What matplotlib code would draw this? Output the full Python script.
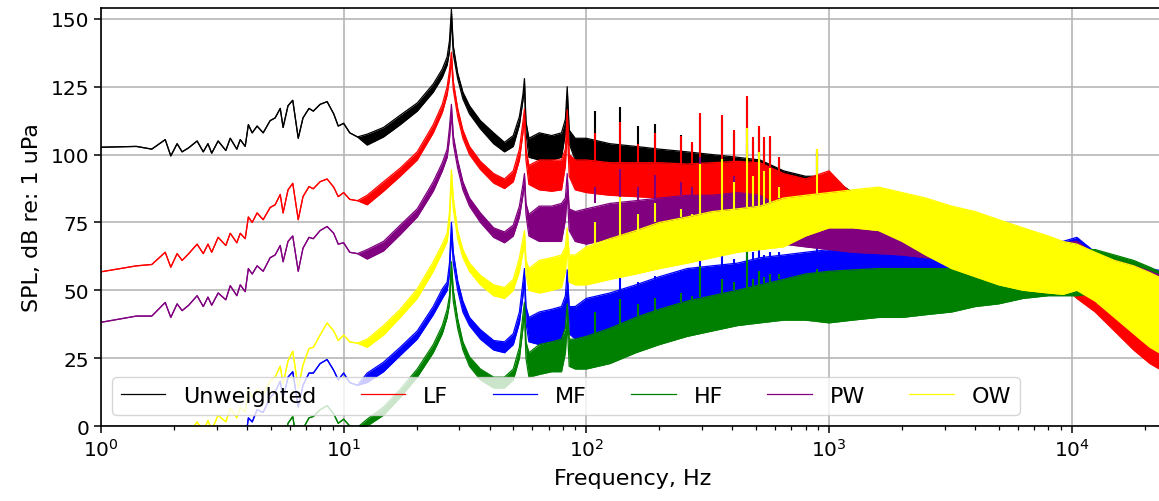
import numpy as np
import matplotlib.pyplot as plt

# ---- low frequency part (< 12 Hz): one thin trace per series ----
f_low = [1.0, 1.4, 1.62, 1.84, 1.94, 2.06, 2.16, 2.3, 2.49, 2.64, 2.76, 2.86, 3.04,
         3.27, 3.41, 3.63, 3.75, 3.93, 4.05, 4.2, 4.4, 4.66, 4.98, 5.22, 5.48, 5.63,
         5.9, 6.17, 6.5, 6.8, 7.2, 7.5, 8.0, 8.55, 9.1, 9.5, 10.0, 10.6, 11.4]
unw_low = [102.7, 103, 102, 105.5, 99.5, 104, 101, 102.5, 105, 101, 104, 100.5, 105,
           101.5, 106, 102, 105.5, 103, 111, 108, 110.5, 108, 112.5, 113.5, 117, 110,
           118, 120, 106, 113.5, 117, 116, 118.5, 119.5, 115, 110.5, 111.5, 108, 106.5]
lf_low = [56.8, 59, 59.5, 64, 58.5, 63.5, 61, 63.5, 67, 63.5, 67, 64, 69.5,
          66.5, 71, 67.5, 71, 69, 77, 75, 78.5, 76, 80.5, 81.5, 85.3, 78.5,
          87, 89.4, 76, 84.5, 88.2, 87.4, 90, 91, 88, 84.5, 86, 83.5, 83]
mf_low = [-30, -27, -26, -21, -26, -20, -22, -19, -15, -18, -14, -16.5, -11,
          -13, -7, -9, -5.5, -6, 3, 1.5, 6, 5, 10.5, 12.5, 16.5, 10,
          18, 20, 7, 15, 19.5, 19.5, 23, 24.5, 20.5, 17, 19.5, 16, 15]
hf_low = [-50, -46, -45, -40, -44, -38, -40, -36, -32, -34, -30, -32, -26,
          -28, -22, -24, -20, -21, -12, -14, -10, -11, -6, -4.5, -0.5, -6,
          1, 3.5, -9, -1, 3, 3.5, 6, 7.5, 4.5, 1, 2.5, 0, -0.5]
pw_low = [38.2, 40.5, 40.5, 45.5, 40, 45, 42.5, 44.5, 48, 44, 47.5, 44.5, 49,
          46.5, 51.7, 48, 52, 49.5, 58, 56, 59, 57, 62, 63, 66.5, 60.5,
          68, 70, 57, 65.5, 69.5, 69, 72, 73.5, 71, 67, 67.5, 64, 63.5]
ow_low = [-12, -9, -8.5, -4, -9, -3.5, -5.5, -3, 1.5, -2, 2, -1.5, 4,
          1.5, 6.5, 3, 7, 5, 13.5, 10.5, 13.5, 11.5, 16.5, 18, 22, 15.5,
          24, 27.5, 14, 22.5, 28.5, 29, 33.5, 38, 35, 31.5, 33.5, 31, 30.5]

# ---- noisy part: lower / upper envelope of the spectrum ----
f_band = [12.5, 14.6, 17.1, 20.1, 23.4, 25.5, 26.7, 27.3, 27.8, 28.3, 29.5, 31, 33,
          36.6, 41.5, 46, 50, 53, 54.8, 55.6, 56.4, 58, 64, 72, 79, 82, 83.4, 85,
          90, 100, 125, 160, 200, 260, 330, 420, 520, 650, 800, 1000, 1250, 1600,
          2000, 2500, 3200, 4000, 5000, 6300, 8000, 9200, 10500, 12500, 15000,
          18000, 21000, 24000]

unw_lo = [103.5, 106.5, 111, 116, 123, 128.5, 133, 138, 150, 137, 128, 120.5, 115,
          109.5, 104, 101, 103, 111, 120, 125, 108, 99, 98, 98, 99, 108, 120, 104,
          98, 97, 95, 94, 94, 92, 90, 88, 87, 84, 83, 82, 78, 76,
          74, 72, 70, 68, 66, 64, 62, 60, 58, 55, 52, 49, 47, 45]
unw_hi = [107.5, 110, 114.5, 119, 126, 131.5, 136, 142, 153.5, 140, 130, 123, 118,
          112.5, 108, 104.5, 107, 114, 122, 128, 112, 106, 108, 107, 108, 113, 125, 109,
          106, 106, 104, 103, 102, 101, 100, 99, 98, 94, 92, 92, 86, 85,
          83, 81, 78, 76, 74, 72, 69, 67, 67, 62, 60, 58, 56, 54]

lf_lo = [81.5, 86.5, 92, 98, 108, 115.5, 122, 128, 134.5, 124, 114, 106, 100,
         94.5, 89.5, 87.5, 90, 98, 108, 113.5, 98, 89, 87, 86.5, 87, 96, 110, 92,
         87, 86, 85, 84.5, 84, 83.5, 83, 83, 82, 83, 82, 83, 79, 77,
         74, 72, 69, 66, 63, 59, 55, 52, 47, 42, 35, 28, 23, 20]
lf_hi = [85, 90, 95, 101, 111, 118.5, 125, 131, 137.7, 127, 117, 109, 103,
         97.5, 93, 91, 94, 102, 112, 116.8, 102, 96, 98, 98, 98, 102, 116.5, 100,
         98, 98, 97, 97, 97, 96.5, 97, 97.5, 97, 93, 91, 94, 85, 84,
         82, 80, 78, 76, 73, 70, 67, 64, 58, 50, 44, 38, 33, 30]

mf_lo = [16, 20, 26, 32, 41, 47, 50, 56, 71, 60, 50, 42, 37,
         32, 28, 27, 30, 38, 48, 54, 38, 31, 30, 31, 31, 38, 50, 34,
         32, 33, 35, 37, 40, 43, 45, 46, 47, 48, 50, 51, 51, 51.5,
         52, 52, 52, 52, 52, 52.5, 53, 54, 54, 52, 50, 48, 47, 45]
mf_hi = [19.5, 23.5, 29, 35, 44, 50.5, 53, 60, 75, 64, 53.5, 46, 40,
         35.5, 31.5, 31, 34, 42, 53, 58, 44, 40, 42, 43, 44, 48, 57.6, 44,
         44, 47, 49, 52, 55, 58, 59, 60, 62, 63, 64, 65, 65, 65,
         64.5, 64, 64, 64, 65, 66, 67.5, 68, 69.5, 64, 61, 59.5, 58, 57]

hf_lo = [0, 4, 10.5, 18, 27, 34, 40, 45, 57, 46, 36, 28, 22,
         17, 14, 14, 17, 25, 36, 42, 25, 18, 19, 20, 20, 27, 38, 22,
         21, 21, 23, 27, 30, 33, 35, 37, 38, 39, 39, 38, 39, 40,
         40, 41, 42, 44, 45, 47, 48, 48, 48, 49, 48, 47, 45, 43]
hf_hi = [2.5, 7, 13.5, 21, 30, 37, 43, 48, 60.5, 50, 39.5, 31, 25.5,
         21, 18, 18, 21, 29, 41, 45.5, 31, 27, 30, 31, 32, 36, 45, 32,
         32, 33, 36, 40, 43, 46, 48, 50, 52, 54, 56, 57, 57.5, 58,
         58, 58, 58, 58.5, 59, 60, 62, 63, 65, 65, 63, 61, 58.5, 56]

pw_lo = [61.5, 64.5, 70.5, 77, 86.5, 94, 99, 106, 115, 104, 95, 87, 81,
         75, 69.5, 67.5, 70, 77, 85, 90, 78, 70, 68, 68, 68, 76, 86, 72,
         68, 67, 69, 70, 71, 72, 72, 72, 71, 67, 66, 65, 64, 63.5,
         63, 62, 61, 60, 59, 58.5, 58, 58, 58, 55, 53, 51, 49, 47]
pw_hi = [65, 68, 74, 80, 90, 97, 102, 110, 118.5, 107, 98, 90, 84,
         78.5, 73, 71.5, 74, 81, 89, 93, 82, 78, 81, 81, 82, 84, 93, 80,
         79, 80, 82, 83, 84, 85, 85, 86, 85, 80, 77, 76, 74, 72,
         71, 70, 69, 68, 67.5, 67, 67, 67.5, 68, 63, 61, 59, 57, 55]

ow_lo = [29, 33.5, 40, 47, 57, 64, 68, 75, 90, 80, 69, 62, 57,
         52, 48, 47, 50, 57, 64, 68, 56, 50, 49, 50, 51, 57, 66, 53,
         52, 52, 54, 56, 58, 60, 62, 64, 65, 66, 70, 73, 73, 72,
         68, 63, 58, 55, 52, 50, 49, 48.5, 50, 46, 40, 34, 29, 26]
ow_hi = [32, 37, 43, 50.5, 60.5, 67, 71, 79, 94.5, 84, 72, 65, 60,
         55.5, 52, 51, 54, 62, 69, 72, 61, 58, 61, 62, 63, 66, 73, 63,
         63, 66, 69, 72, 75, 77, 79, 80, 81, 84, 85, 86, 87, 88,
         86, 84, 81, 79, 76, 73, 70, 68, 67, 64, 61, 59, 56.5, 54]

# ---- tonal peaks (harmonics of ~27.8 Hz and others) ----
f_tone = [109, 137, 164, 191, 245, 272, 294, 363, 405, 459, 484, 516, 541, 573, 625, 893]
unw_tone_base = [105, 104, 103, 102.5, 101, 100, 100, 99, 98.5, 98, 98, 97.5, 97, 96, 94, 92]
unw_tone_top = [116, 117.4, 110.5, 111.2, 107.3, 104, 114, 113, 108, 120, 105, 109.5, 105, 106, 98, 101]
lf_tone_base = [97.5, 97, 97, 97, 96.5, 96.5, 96.5, 97, 97, 97.5, 97, 97, 96, 95, 93, 92]
lf_tone_top = [108, 112, 104, 108, 107, 104.7, 115.4, 114.4, 108.9, 121.5, 106.4, 110.7, 106.4, 107, 99, 102]
mf_tone_base = [46, 49, 52, 54, 57, 58, 58.5, 59, 60, 61, 61.5, 62, 62, 62.5, 63, 64]
mf_tone_top = [47, 60.3, 53, 55.4, 54.8, 56, 71.4, 66.5, 61.5, 82.4, 64, 66.5, 63, 64, 64, 66]
hf_tone_base = [33, 36, 40, 42, 45.5, 46.5, 47.5, 49, 50, 51, 51.5, 52, 52.5, 53, 54, 56]
hf_tone_top = [42, 46.8, 45, 47, 49, 48, 59.1, 54.2, 53, 69, 54, 57, 55, 56, 56, 58]
pw_tone_base = [82, 82, 83, 84, 85, 85, 85, 85, 86, 86, 85.5, 85, 84, 83, 80, 76]
pw_tone_top = [88, 94.7, 88, 92.3, 90, 88, 99, 96, 92, 104, 90, 95, 90, 92, 86, 90]
ow_tone_base = [66, 69, 72, 75, 77, 77.5, 78, 79, 80, 80.5, 81, 81, 81.5, 82, 84, 85.5]
ow_tone_top = [75, 84.3, 78, 82, 80, 78, 96.6, 98.4, 90, 109.8, 92, 101, 94, 95, 88, 102]

series = [
    ("Unweighted", "black", unw_low, unw_lo, unw_hi, unw_tone_base, unw_tone_top),
    ("LF", "red", lf_low, lf_lo, lf_hi, lf_tone_base, lf_tone_top),
    ("MF", "blue", mf_low, mf_lo, mf_hi, mf_tone_base, mf_tone_top),
    ("HF", "green", hf_low, hf_lo, hf_hi, hf_tone_base, hf_tone_top),
    ("PW", "purple", pw_low, pw_lo, pw_hi, pw_tone_base, pw_tone_top),
    ("OW", "yellow", ow_low, ow_lo, ow_hi, ow_tone_base, ow_tone_top),
]

fig = plt.figure(figsize=(11.59, 5.02), dpi=100)
ax = fig.add_axes([0.0871, 0.1494, 0.9172, 0.8327])

f = np.r_[f_low, f_band]
for i, (name, c, low, lo, hi, tb, tt) in enumerate(series):
    z = 2 + 0.1 * i
    y_lo = np.r_[low, lo]
    y_hi = np.r_[low, hi]
    ax.fill_between(f, y_lo, y_hi, color=c, lw=0, zorder=z)
    ax.plot(f, y_hi, color=c, lw=0.9, zorder=z, label=name)
    ax.plot(f, y_lo, color=c, lw=0.9, zorder=z)
    ax.vlines(f_tone, tb, tt, color=c, lw=1.5, zorder=z)

ax.set_xscale("log")
ax.set_xlim(1, 24000)
ax.set_ylim(0, 154)
ax.set_yticks([0, 25, 50, 75, 100, 125, 150])
ax.set_axisbelow(True)
ax.grid(True, which="major", color="#b0b0b0", lw=1.1)
ax.tick_params(labelsize=14.5, length=5, width=1.1)
ax.tick_params(which="minor", length=3, width=0.9)
for s in ax.spines.values():
    s.set_linewidth(1.2)

ax.set_xlabel("Frequency, Hz", fontsize=16, labelpad=6)
ax.set_ylabel("SPL, dB re: 1 uPa", fontsize=16, labelpad=6)

leg = ax.legend(loc="lower left", ncol=6, fontsize=16)
leg.set_zorder(10)

fig.savefig("out.png", dpi=100)
